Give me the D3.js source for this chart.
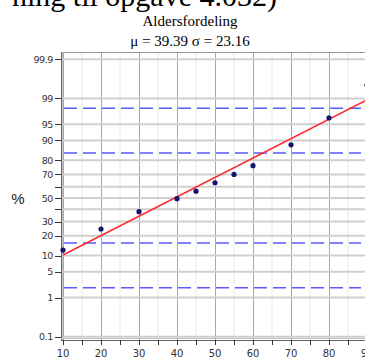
<!DOCTYPE html>
<html>
<head>
<meta charset="utf-8">
<script src="https://cdn.jsdelivr.net/npm/d3@7"></script>
<style>
  html, body { margin: 0; padding: 0; background: #fff; overflow: hidden; }
  svg { display: block; }
</style>
</head>
<body>
<svg id="chart" width="365" height="358"></svg>
<script>
// age vs cumulative percent
const ages = [10, 20, 30, 40, 45, 50, 55, 60, 70, 80, 90];
const cumPercent = [12.3, 24.5, 38, 49.4, 56, 63.3, 70, 76.4, 88.2, 96.3, 99.4];

const mu = 39.39, sigma = 23.16;

// probability axis: where the ticks sit and what they say
const yTickPos = [0.1, 1.33, 5, 10, 20, 30, 40, 50, 60, 70, 80, 90, 95, 98.67, 99.9];
const yTickLabels = ['0.1', '1', '5', '10', '20', '30', '', '50', '', '70', '80', '90', '95', '99', '99.9'];
const xTicks = [10, 20, 30, 40, 50, 60, 70, 80, 90];
const xMinor = [15, 25, 35, 45, 55, 65, 75, 85];
const sigmaBands = [-2, -1, 1, 2];

const svg = d3.select('#chart');

const plotLeft = 61, plotTop = 52, plotRight = 372, plotBottom = 340;

const x = d3.scaleLinear().domain([10, 90]).range([63, 367]);
const z = d3.scaleLinear().domain([-3.09, 3.09]).range([336.7, 59.3]);
const yP = p => z(normInv(p / 100));

// inverse normal cdf (Acklam)
function normInv(p) {
    const a = [-39.6968302866538, 220.946098424521, -275.928510446969, 138.357751867269, -30.6647980661472, 2.50662827745924],
          b = [-54.4760987982241, 161.585836858041, -155.698979859887, 66.8013118877197, -13.2806815528857],
          c = [-0.00778489400243029, -0.322396458041136, -2.40075827716184, -2.54973253934373, 4.37466414146497, 2.93816398269878],
          d = [0.00778469570904146, 0.32246712907004, 2.445134137143, 3.75440866190742];
    const pl = 0.02425;
    let q, r;
    if (p < pl) {
        q = Math.sqrt(-2 * Math.log(p));
        return (((((c[0]*q+c[1])*q+c[2])*q+c[3])*q+c[4])*q+c[5]) / ((((d[0]*q+d[1])*q+d[2])*q+d[3])*q+1);
    } else if (p <= 1 - pl) {
        q = p - 0.5; r = q * q;
        return (((((a[0]*r+a[1])*r+a[2])*r+a[3])*r+a[4])*r+a[5])*q / (((((b[0]*r+b[1])*r+b[2])*r+b[3])*r+b[4])*r+1);
    }
    q = Math.sqrt(-2 * Math.log(1 - p));
    return -(((((c[0]*q+c[1])*q+c[2])*q+c[3])*q+c[4])*q+c[5]) / ((((d[0]*q+d[1])*q+d[2])*q+d[3])*q+1);
}

// top text, cut off by the page edge
svg.append('text')
    .attr('x', 277).attr('y', 6)
    .attr('text-anchor', 'end')
    .attr('font-family', 'Liberation Serif')
    .attr('font-size', 30)
    .text('ning til opgave 4.032)');

svg.append('text')
    .attr('x', 190).attr('y', 26)
    .attr('text-anchor', 'middle')
    .attr('font-family', 'Liberation Serif')
    .attr('font-size', 15)
    .text('Aldersfordeling');

svg.append('text')
    .attr('x', 190).attr('y', 46)
    .attr('text-anchor', 'middle')
    .attr('font-family', 'Liberation Serif')
    .attr('font-size', 15)
    .text('\u03bc = ' + mu + ' \u03c3 = ' + sigma);

svg.append('text')
    .attr('x', 18).attr('y', 204)
    .attr('text-anchor', 'middle')
    .attr('font-family', 'Liberation Sans')
    .attr('font-size', 15)
    .attr('fill', '#222')
    .text('%');

const grid = svg.append('g');

// vertical grid
grid.selectAll('.vmin').data(xMinor).join('line')
    .attr('x1', d => x(d)).attr('x2', d => x(d))
    .attr('y1', plotTop).attr('y2', plotBottom)
    .attr('stroke', '#e8e8e8').attr('stroke-width', 1);
grid.selectAll('.vmaj').data(xTicks).join('line')
    .attr('x1', d => Math.round(x(d)) + 0.5).attr('x2', d => Math.round(x(d)) + 0.5)
    .attr('y1', plotTop).attr('y2', plotBottom)
    .attr('stroke', '#a8a8a8').attr('stroke-width', 1);

// horizontal grid
grid.selectAll('.hgrid').data(yTickPos).join('line')
    .attr('x1', plotLeft).attr('x2', plotRight)
    .attr('y1', d => yP(d)).attr('y2', d => yP(d))
    .attr('stroke', '#cfcfcf').attr('stroke-width', 2);

// frame
svg.append('line').attr('x1', plotLeft).attr('x2', plotRight).attr('y1', plotTop + 0.5).attr('y2', plotTop + 0.5)
    .attr('stroke', '#999');
svg.append('line').attr('x1', plotLeft + 1.5).attr('x2', plotLeft + 1.5).attr('y1', plotTop).attr('y2', plotBottom)
    .attr('stroke', '#c4c4c4');
svg.append('line').attr('x1', plotLeft + 0.5).attr('x2', plotLeft + 0.5).attr('y1', plotTop).attr('y2', plotBottom + 1)
    .attr('stroke', '#666');
svg.append('line').attr('x1', plotLeft).attr('x2', plotRight).attr('y1', plotBottom - 1.5).attr('y2', plotBottom - 1.5)
    .attr('stroke', '#c4c4c4');
svg.append('line').attr('x1', plotLeft).attr('x2', plotRight).attr('y1', plotBottom + 0.5).attr('y2', plotBottom + 0.5)
    .attr('stroke', '#666');

// y ticks
const yAxis = svg.append('g');
yAxis.selectAll('line').data(yTickPos).join('line')
    .attr('x1', plotLeft - 6).attr('x2', plotLeft)
    .attr('y1', d => Math.round(yP(d)) + 0.5).attr('y2', d => Math.round(yP(d)) + 0.5)
    .attr('stroke', '#333');
yAxis.selectAll('text').data(yTickPos).join('text')
    .attr('x', plotLeft - 8).attr('y', d => yP(d) + 3.5)
    .attr('text-anchor', 'end')
    .attr('font-family', 'DejaVu Sans')
    .attr('font-size', 9.5)
    .attr('letter-spacing', -0.4)
    .attr('fill', '#333')
    .text((d, i) => yTickLabels[i]);

// x ticks
const xAxis = svg.append('g');
xAxis.selectAll('.tk').data(xTicks.concat(xMinor)).join('line')
    .attr('x1', d => Math.round(x(d)) + 0.5).attr('x2', d => Math.round(x(d)) + 0.5)
    .attr('y1', plotBottom).attr('y2', plotBottom + 5)
    .attr('stroke', '#333');
xAxis.selectAll('text').data(xTicks).join('text')
    .attr('x', d => x(d)).attr('y', plotBottom + 17)
    .attr('text-anchor', 'middle')
    .attr('font-family', 'DejaVu Sans')
    .attr('font-size', 10)
    .attr('fill', '#333')
    .text(d => d);

// sigma band dashed lines
svg.append('g').selectAll('line').data(sigmaBands).join('line')
    .attr('x1', plotLeft + 3).attr('x2', 361)
    .attr('y1', d => z(d)).attr('y2', d => z(d))
    .attr('stroke', '#5a5aff').attr('stroke-width', 1.5)
    .attr('stroke-dasharray', '13 6');

// fitted normal line
const fit = d3.line()
    .x(d => x(d))
    .y(d => z((d - mu) / sigma));
svg.append('path')
    .attr('d', fit([10, 92]))
    .attr('stroke', '#ff2a2a').attr('stroke-width', 1.5).attr('fill', 'none');

// data points
svg.append('g').selectAll('circle').data(ages).join('circle')
    .attr('cx', d => x(d))
    .attr('cy', (d, i) => yP(cumPercent[i]))
    .attr('r', 2.6)
    .attr('fill', '#141470');
</script>
</body>
</html>
